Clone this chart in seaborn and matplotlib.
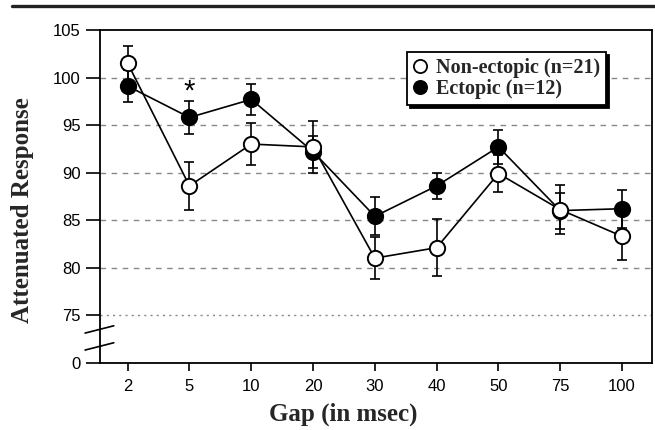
import matplotlib
matplotlib.use("Agg")
import matplotlib.pyplot as plt
from matplotlib.lines import Line2D
import numpy as np
import pandas as pd
import seaborn as sns

# Gap durations (msec) shown as evenly spaced categories
gaps = ["2", "5", "10", "20", "30", "40", "50", "75", "100"]

# Mean attenuated response and its error for each group
non_ectopic = [101.5, 88.6, 93.0, 92.7, 81.0, 82.1, 89.9, 86.1, 83.3]
non_ectopic_err = [1.8, 2.5, 2.2, 2.7, 2.2, 3.0, 1.9, 2.6, 2.5]
ectopic = [99.1, 95.8, 97.7, 92.2, 85.4, 88.6, 92.7, 86.0, 86.2]
ectopic_err = [1.7, 1.7, 1.65, 1.7, 2.0, 1.4, 1.8, 1.9, 2.0]

group_labels = ["Non-ectopic (n=21)", "Ectopic (n=12)"]

# y axis is broken: the bottom tick stands for 0
y_ticks = [70, 75, 80, 85, 90, 95, 100, 105]
y_tick_labels = ["0", "75", "80", "85", "90", "95", "100", "105"]
grid_levels = [75, 80, 85, 90, 95, 100]

sns.set_theme(style="white")
plt.rcParams["font.family"] = ["Liberation Sans", "DejaVu Sans"]

pos = np.arange(len(gaps))
df = pd.DataFrame({
    "pos": np.concatenate([pos, pos]),
    "response": ectopic + non_ectopic,
    "group": [group_labels[1]] * len(gaps) + [group_labels[0]] * len(gaps),
})

fig = plt.figure(figsize=(6.55, 4.30), dpi=100)
ax = fig.add_axes([100 / 655, 1 - 362.7 / 430, 552 / 655, 332.7 / 430])

# dashed reference lines
for lv in grid_levels:
    ls = (0, (1.5, 3)) if lv == 75 else (0, (4, 4))
    ax.axhline(lv, color="#888888", lw=1.0, ls=ls, zorder=0.5)

styles = {
    group_labels[1]: dict(vals=ectopic, err=ectopic_err, face="black", z=3),
    group_labels[0]: dict(vals=non_ectopic, err=non_ectopic_err, face="white", z=4),
}

for name in [group_labels[1], group_labels[0]]:
    st = styles[name]
    sub = df[df["group"] == name]
    ax.errorbar(pos, st["vals"], yerr=st["err"], fmt="none", ecolor="black",
                elinewidth=1.2, capsize=3.6, capthick=1.2, zorder=st["z"] - 0.5)
    sns.lineplot(data=sub, x="pos", y="response", ax=ax, color="black",
                 lw=1.2, marker="o", markersize=11, markerfacecolor=st["face"],
                 markeredgecolor="black", markeredgewidth=1.4,
                 errorbar=None, legend=False, zorder=st["z"])

# significance marker at 5 msec
ax.text(1, ectopic[1] + ectopic_err[1] + 1.0, "*", ha="center", va="center",
        fontsize=21, color="black", zorder=6)

ax.set_xlim(-0.448, 8.485)
ax.set_ylim(70, 105)
ax.set_xticks(pos)
ax.set_xticklabels(gaps)
ax.set_yticks(y_ticks)
ax.set_yticklabels(y_tick_labels)
ax.tick_params(axis="y", direction="out", length=10, width=1.2, pad=4,
               labelsize=12, left=True, colors="black")
ax.tick_params(axis="x", direction="out", length=5.5, width=1.2, pad=6,
               labelsize=12, bottom=True, colors="black")

for sp in ax.spines.values():
    sp.set_color("black")
    sp.set_linewidth(1.3)
    sp.set_visible(True)

serif = ["Liberation Serif", "DejaVu Serif"]
ax.set_xlabel("Gap (in msec)", fontsize=18, fontweight="bold", family=serif)
ax.set_ylabel("Attenuated Response", fontsize=18, fontweight="bold", family=serif)
ax.xaxis.set_label_coords(243 / 552, -40 / 332.7)
ax.yaxis.set_label_coords(-66 / 552, (362.7 - 210) / 332.7)

# axis break marks
for y0 in (0.038, 0.089):
    ax.plot([-0.027, 0.025], [y0, y0 + 0.022], transform=ax.transAxes,
            color="black", lw=1.2, clip_on=False, zorder=6)

handles = [
    Line2D([], [], ls="none", marker="o", markersize=9.5, markerfacecolor="white",
           markeredgecolor="black", markeredgewidth=1.3),
    Line2D([], [], ls="none", marker="o", markersize=9.5, markerfacecolor="black",
           markeredgecolor="black", markeredgewidth=1.3),
]
leg = ax.legend(handles, group_labels, loc="upper left",
                bbox_to_anchor=(0.556, 0.934), borderaxespad=0,
                frameon=True, fancybox=False, framealpha=1,
                edgecolor="black", shadow={"color": "black", "alpha": 1},
                handlelength=0.7, handletextpad=0.45, labelspacing=0.05,
                borderpad=0.3,
                prop={"family": serif, "weight": "bold", "size": 14.5})
leg.get_frame().set_linewidth(1.3)

# rule across the top of the figure
fig.add_artist(Line2D([12 / 655, 1.0], [1 - 6 / 430, 1 - 6 / 430],
                      transform=fig.transFigure, color="#222222", lw=2.4))

fig.savefig("out.png", dpi=100)
